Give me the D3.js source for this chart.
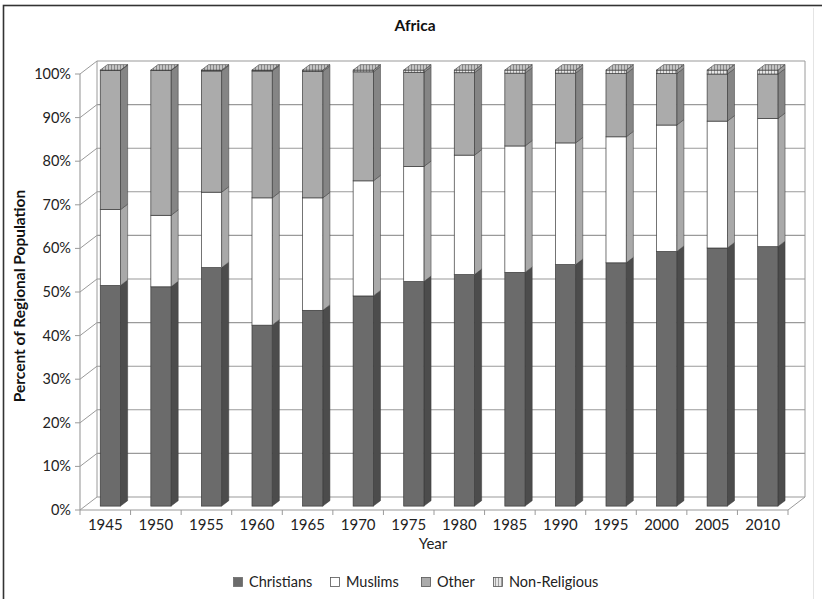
<!DOCTYPE html>
<html>
<head>
<meta charset="utf-8">
<script src="https://cdn.jsdelivr.net/npm/d3@7"></script>
<style>
html,body{margin:0;padding:0;background:#fff;}
svg{display:block;font-family:Lato,"Open Sans",sans-serif;}
</style>
</head>
<body>
<svg id="chart" width="822" height="599"></svg>
<script>
const years = ["1945","1950","1955","1960","1965","1970","1975","1980","1985","1990","1995","2000","2005","2010"];
const christians = [50.6,50.3,54.7,41.5,44.9,48.2,51.5,53.1,53.6,55.4,55.8,58.4,59.2,59.5];
const muslims    = [17.4,16.4,17.3,29.2,25.8,26.4,26.4,27.4,29.0,27.9,28.9,29.0,29.1,29.4];
const nonReligious = [0.1,0.1,0.2,0.2,0.3,0.4,0.5,0.6,0.7,0.7,0.8,0.8,0.9,0.9];
const other = years.map((y,i)=> +(100 - christians[i] - muslims[i] - nonReligious[i]).toFixed(1));
const seriesNames = ["Christians","Muslims","Other","Non-Religious"];
const yTicks = [0,10,20,30,40,50,60,70,80,90,100];

const svg = d3.select("#chart");
const defs = svg.append("defs");
const pat = defs.append("pattern").attr("id","hatch").attr("patternUnits","userSpaceOnUse")
  .attr("width",3).attr("height",4);
pat.append("rect").attr("width",3).attr("height",4).attr("fill","#e6e6e6");
pat.append("line").attr("x1",0.5).attr("x2",0.5).attr("y1",0).attr("y2",4).attr("stroke","#8a8a8a").attr("stroke-width",0.8);
const patTop = defs.append("pattern").attr("id","hatchTop").attr("patternUnits","userSpaceOnUse")
  .attr("width",3).attr("height",4);
patTop.append("rect").attr("width",3).attr("height",4).attr("fill","#c4c4c4");
patTop.append("line").attr("x1",0.5).attr("x2",0.5).attr("y1",0).attr("y2",4).attr("stroke","#7a7a7a").attr("stroke-width",0.8);

// border (scanned frame)
svg.append("rect").attr("x",3.5).attr("y",5.5).attr("width",900).attr("height",700)
  .attr("fill","none").attr("stroke","#333").attr("stroke-width",1.6);
svg.append("line").attr("x1",813.5).attr("x2",813.5).attr("y1",8).attr("y2",599).attr("stroke","#e4e4e4").attr("stroke-width",1);

// 3D geometry
const DX = 17, DY = -13;
const x = d3.scaleBand().domain(years).range([80,788]).paddingInner(0.6).paddingOuter(0.3);
const y = d3.scaleLinear().domain([0,100]).range([510,74]);
const gridC = "#9a9a9a";

const g = svg.append("g");
g.selectAll(".bg").data(yTicks).join("line")
  .attr("x1",80+DX).attr("x2",788+DX)
  .attr("y1",d=>y(d)+DY).attr("y2",d=>y(d)+DY)
  .attr("stroke",gridC).attr("stroke-width",1.1);
g.selectAll(".sg").data(yTicks).join("line")
  .attr("x1",80).attr("x2",80+DX)
  .attr("y1",d=>y(d)).attr("y2",d=>y(d)+DY)
  .attr("stroke",gridC).attr("stroke-width",1);
g.append("line").attr("x1",80+DX).attr("x2",80+DX).attr("y1",y(100)+DY).attr("y2",y(0)+DY).attr("stroke",gridC);
g.append("line").attr("x1",788+DX).attr("x2",788+DX).attr("y1",y(100)+DY).attr("y2",y(0)+DY).attr("stroke",gridC);
g.append("line").attr("x1",788).attr("x2",788+DX).attr("y1",y(0)).attr("y2",y(0)+DY).attr("stroke",gridC);
g.append("line").attr("x1",80).attr("x2",788).attr("y1",y(0)).attr("y2",y(0)).attr("stroke",gridC).attr("stroke-width",1.1);
g.append("line").attr("x1",80).attr("x2",80).attr("y1",y(100)).attr("y2",y(0)).attr("stroke",gridC).attr("stroke-width",1.1);
g.selectAll(".yt").data(yTicks).join("line")
  .attr("x1",75).attr("x2",80).attr("y1",d=>y(d)).attr("y2",d=>y(d)).attr("stroke",gridC);
const bounds = years.map(d=>x(d)-x.step()*x.paddingInner()/2).concat([788]);
bounds[0]=80;
g.selectAll(".xt").data(bounds).join("line")
  .attr("x1",d=>d).attr("x2",d=>d).attr("y1",y(0)).attr("y2",y(0)+5).attr("stroke",gridC);

// labels
svg.append("g").selectAll("text").data(yTicks).join("text")
  .attr("x",71).attr("y",d=>y(d)+5).attr("text-anchor","end")
  .attr("font-size",14.5).attr("fill","#222").text(d=>d+"%");
svg.append("g").selectAll("text").data(years).join("text")
  .attr("x",d=>x(d)+x.bandwidth()/2).attr("y",530).attr("text-anchor","middle")
  .attr("font-size",15).attr("fill","#222").text(d=>d);
svg.append("text").attr("x",433).attr("y",549).attr("text-anchor","middle")
  .attr("font-size",15).attr("fill","#222").text("Year");
svg.append("text").attr("x",415).attr("y",31).attr("text-anchor","middle")
  .attr("font-size",15.5).attr("font-weight","bold").attr("fill","#111").text("Africa");
svg.append("text").attr("transform","translate(25,296) rotate(-90)").attr("text-anchor","middle")
  .attr("font-size",15.5).attr("font-weight","bold").attr("fill","#111").text("Percent of Regional Population");

// bars
const z0 = 0.3, z1 = 0.72;
const styles = {
  "Christians":   {front:"#6b6b6b", side:"#4c4c4c", top:"#8a8a8a"},
  "Muslims":      {front:"#ffffff", side:"#a9a9a9", top:"#e0e0e0"},
  "Other":        {front:"#ababab", side:"#858585", top:"#c0c0c0"},
  "Non-Religious":{front:"url(#hatch)", side:"#9a9a9a", top:"url(#hatchTop)"}
};
const data = years.map((yr,i)=>({year:yr, vals:[christians[i],muslims[i],other[i],nonReligious[i]]}));
const stroke = "#3a3a3a";
const bars = svg.append("g");
data.forEach(d=>{
  let cum = 0;
  const bx = x(d.year), bw = x.bandwidth();
  const fx = bx + z0*DX, fy = z0*DY;
  const ddx = (z1-z0)*DX, ddy = (z1-z0)*DY;
  const segs = d.vals.map((v,k)=>{ const s={name:seriesNames[k], a:cum, b:cum+v}; cum+=v; return s; });
  segs.forEach((s,k)=>{
    const st = styles[s.name];
    const yb = y(s.a)+fy, yt = y(s.b)+fy;
    bars.append("path")
      .attr("d",`M${fx+bw},${yb} L${fx+bw+ddx},${yb+ddy} L${fx+bw+ddx},${yt+ddy} L${fx+bw},${yt} Z`)
      .attr("fill",st.side).attr("stroke",stroke).attr("stroke-width",0.5);
    bars.append("rect").attr("x",fx).attr("y",yt).attr("width",bw).attr("height",Math.max(0,yb-yt))
      .attr("fill",st.front).attr("stroke",stroke).attr("stroke-width",0.7);
    if(k===segs.length-1){
      bars.append("path")
        .attr("d",`M${fx},${yt} L${fx+ddx},${yt+ddy} L${fx+bw+ddx},${yt+ddy} L${fx+bw},${yt} Z`)
        .attr("fill",st.top).attr("stroke",stroke).attr("stroke-width",0.6);
    }
  });
});

// legend
const legX = [233,330,421,493];
const lg = svg.append("g");
seriesNames.forEach((n,i)=>{
  lg.append("rect").attr("x",legX[i]+0.5).attr("y",577.5).attr("width",9).attr("height",9)
    .attr("fill",styles[n].front).attr("stroke", n==="Christians"?"#6b6b6b":"#555").attr("stroke-width",0.8);
  lg.append("text").attr("x",legX[i]+16).attr("y",587).attr("font-size",14.5).attr("fill","#222").text(n);
});
</script>
</body>
</html>
